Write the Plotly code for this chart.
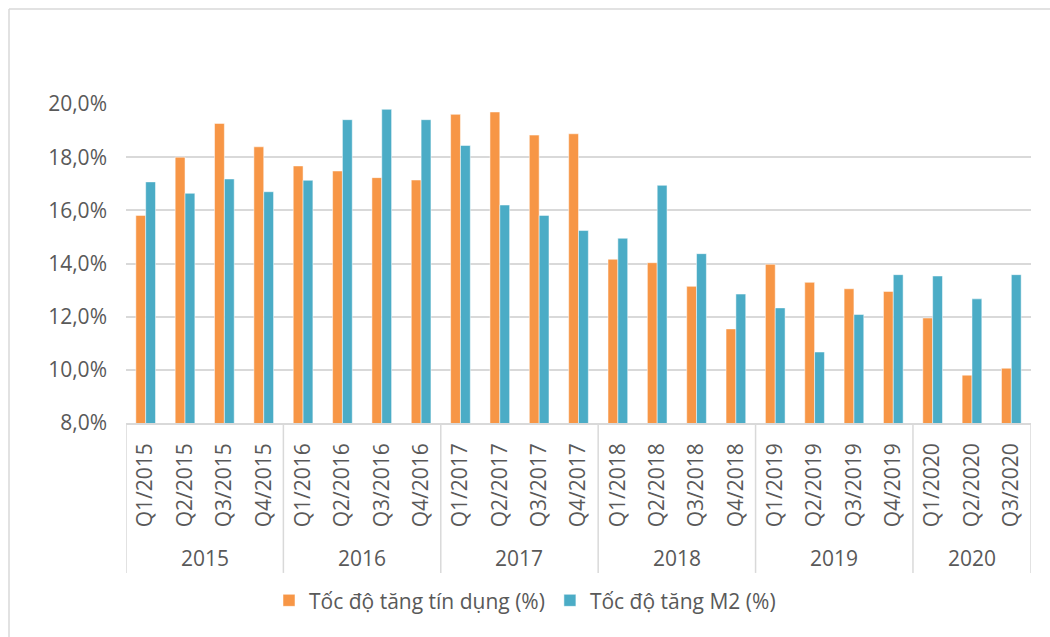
import plotly.graph_objects as go

quarters = ["Q1/2015", "Q2/2015", "Q3/2015", "Q4/2015",
            "Q1/2016", "Q2/2016", "Q3/2016", "Q4/2016",
            "Q1/2017", "Q2/2017", "Q3/2017", "Q4/2017",
            "Q1/2018", "Q2/2018", "Q3/2018", "Q4/2018",
            "Q1/2019", "Q2/2019", "Q3/2019", "Q4/2019",
            "Q1/2020", "Q2/2020", "Q3/2020"]
years = ["2015", "2016", "2017", "2018", "2019", "2020"]

credit_growth = [15.81, 18.00, 19.27, 18.39,
                 17.67, 17.48, 17.23, 17.14,
                 19.61, 19.70, 18.83, 18.88,
                 14.16, 14.03, 13.14, 11.54,
                 13.97, 13.29, 13.05, 12.95,
                 11.95, 9.80, 10.06]
m2_growth = [17.07, 16.64, 17.18, 16.70,
             17.13, 19.41, 19.80, 19.41,
             18.44, 16.20, 15.81, 15.24,
             14.95, 16.94, 14.37, 12.85,
             12.33, 10.67, 12.08, 13.58,
             13.53, 12.67, 13.58]

y_ticks = [8, 10, 12, 14, 16, 18, 20]
y_tick_text = ["8,0%", "10,0%", "12,0%", "14,0%", "16,0%", "18,0%", "20,0%"]

series_names = ["Tốc độ tăng tín dụng (%)", "Tốc độ tăng M2 (%)"]

FONT = "Open Sans"
GRAY_TXT = "#595959"
GRID = "#D9D9D9"

fig = go.Figure()
fig.add_trace(go.Bar(x=quarters, y=credit_growth, name=series_names[0],
                     marker=dict(color="#F79646", line=dict(color="#FFFFFF", width=0.5))))
fig.add_trace(go.Bar(x=quarters, y=m2_growth, name=series_names[1],
                     marker=dict(color="#4BACC6", line=dict(color="#FFFFFF", width=0.5))))

# Year groups derived from quarter labels
groups = []
for yr in years:
    idx = [i for i, q in enumerate(quarters) if q.endswith(yr)]
    groups.append((yr, idx[0], idx[-1]))

shapes = []
annotations = []
bounds = sorted(set([g[1] - 0.5 for g in groups] + [g[2] + 0.5 for g in groups]))
for b in bounds:
    shapes.append(dict(type="line", xref="x", yref="paper", x0=b, x1=b, y0=0, y1=-0.47,
                       line=dict(color=GRID, width=1.5), layer="below"))
for yr, a, z in groups:
    annotations.append(dict(x=(a + z) / 2, y=-0.423, xref="x", yref="paper", text=yr,
                            showarrow=False, yanchor="middle", xanchor="center",
                            font=dict(family=FONT, size=21, color=GRAY_TXT)))

# outer frame (top and left edges visible)
shapes.append(dict(type="line", xref="paper", yref="paper",
                   x0=(9 - 126) / 905, x1=(1050 - 126) / 905,
                   y0=1 + (104 - 9) / 319, y1=1 + (104 - 9) / 319,
                   line=dict(color="#D9D9D9", width=1.5)))
shapes.append(dict(type="line", xref="paper", yref="paper",
                   x0=(9 - 126) / 905, x1=(9 - 126) / 905,
                   y0=1 + (104 - 9) / 319, y1=-(637 - 423) / 319,
                   line=dict(color="#D9D9D9", width=1.5)))

fig.update_layout(
    width=1050, height=637,
    margin=dict(l=126, r=19, t=104, b=214),
    paper_bgcolor="white", plot_bgcolor="white",
    barmode="group", bargap=0.5, bargroupgap=0,
    font=dict(family=FONT, size=21, color=GRAY_TXT),
    showlegend=True,
    legend=dict(orientation="h", xref="container", yref="container",
                x=0.5, xanchor="center", y=0.057, yanchor="middle",
                font=dict(family=FONT, size=21, color=GRAY_TXT),
                itemwidth=30, traceorder="normal"),
    shapes=shapes, annotations=annotations,
)
fig.update_xaxes(type="category", range=[-0.5, len(quarters) - 0.5], automargin=False,
                 tickangle=-90, showline=True, linecolor=GRID, linewidth=1.5,
                 showgrid=False, ticks="", ticklabelstandoff=10,
                 tickfont=dict(family=FONT, size=21, color=GRAY_TXT))
fig.update_yaxes(range=[8, 20], tickvals=y_ticks, ticktext=y_tick_text, automargin=False,
                 showgrid=True, gridcolor=GRID, gridwidth=1.5, zeroline=False,
                 showline=False, ticks="", ticklabelstandoff=18,
                 tickfont=dict(family=FONT, size=21, color=GRAY_TXT))

fig.write_html("out.html", config={"displayModeBar": False},
               post_script="document.body.style.margin='0';document.body.style.padding='0';")
